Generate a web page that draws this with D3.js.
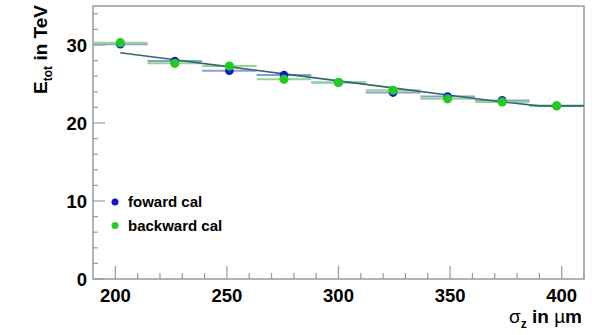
<!DOCTYPE html>
<html>
<head>
<meta charset="utf-8">
<script src="https://cdn.jsdelivr.net/npm/d3@7"></script>
<style>
    body { margin: 0; background: #fff; }
    text { font-family: "Liberation Sans", Arial, sans-serif; }
</style>
</head>
<body>
<div id="chart"></div>
<script>
"use strict";

// histogram binning (9 bins between 190 and 410 um)
const binEdgesMin = 190;
const binEdgesMax = 410;
const binCount = 9;

// bin contents
const forwardValues = [30.1, 27.95, 26.7, 26.15, 25.2, 23.9, 23.4, 22.9, 22.2];
const backwardValues = [30.3, 27.65, 27.3, 25.6, 25.2, 24.2, 23.1, 22.7, 22.2];

// fitted curve
const fitX = [202.2, 226.7, 251.1, 275.6, 300, 324.4, 348.9, 373.3, 390, 410];
const fitY = [29.0, 28.1, 27.2, 26.3, 25.4, 24.5, 23.6, 22.7, 22.2, 22.2];

const xTicks = [200, 250, 300, 350, 400];
const yTicks = [0, 10, 20, 30];

const seriesNames = ["foward cal", "backward cal"];

function draw() {
    const width = 592;
    const height = 335;
    const margin = { top: 6, right: 8, bottom: 56, left: 93 };
    const w = width - margin.left - margin.right;
    const h = height - margin.top - margin.bottom;

    const frameColor = "#9a9a9a";
    const colors = {
        forward: { dot: "#1414d2", bar: "#8e9cd8" },
        backward: { dot: "#1fcc1f", bar: "#92d692" }
    };

    const svg = d3.select("#chart").append("svg")
        .attr("width", width)
        .attr("height", height)
        .append("g")
        .attr("transform", `translate(${margin.left},${margin.top})`);

    const xScale = d3.scaleLinear().domain([binEdgesMin, binEdgesMax]).range([0, w]);
    const yScale = d3.scaleLinear().domain([0, 35]).range([h, 0]);

    const binWidth = (binEdgesMax - binEdgesMin) / binCount;
    const bins = d3.range(binCount).map(i => ({
        lo: binEdgesMin + i * binWidth,
        hi: binEdgesMin + (i + 1) * binWidth,
        c: binEdgesMin + (i + 0.5) * binWidth,
        fwd: forwardValues[i],
        bwd: backwardValues[i]
    }));

    // frame
    svg.append("rect")
        .attr("width", w)
        .attr("height", h)
        .attr("fill", "none")
        .attr("stroke", frameColor)
        .attr("stroke-width", 1.5);

    // x axis ticks (inside the frame)
    const xMinor = d3.range(200, 411, 10);
    svg.append("g").selectAll("line")
        .data(xMinor)
        .enter().append("line")
        .attr("x1", d => xScale(d)).attr("x2", d => xScale(d))
        .attr("y1", h)
        .attr("y2", d => xTicks.includes(d) ? h - 13 : h - 6)
        .attr("stroke", frameColor)
        .attr("stroke-width", 1.2);

    svg.append("g").selectAll("text")
        .data(xTicks)
        .enter().append("text")
        .attr("x", d => xScale(d))
        .attr("y", h + 23)
        .attr("text-anchor", "middle")
        .style("font-size", "18.5px")
        .style("font-weight", "bold")
        .text(d => d);

    // y axis ticks
    const yMinor = d3.range(0, 35, 2);
    svg.append("g").selectAll("line")
        .data(yMinor)
        .enter().append("line")
        .attr("x1", 0)
        .attr("x2", d => d % 10 === 0 ? 12 : 5)
        .attr("y1", d => yScale(d)).attr("y2", d => yScale(d))
        .attr("stroke", frameColor)
        .attr("stroke-width", 1.2);

    svg.append("g").selectAll("text")
        .data(yTicks)
        .enter().append("text")
        .attr("x", -6)
        .attr("y", d => yScale(d))
        .attr("dy", "0.36em")
        .attr("text-anchor", "end")
        .style("font-size", "18.5px")
        .style("font-weight", "bold")
        .text(d => d);

    // axis titles
    const xTitle = svg.append("text")
        .attr("x", w - 2)
        .attr("y", h + 44)
        .attr("text-anchor", "end")
        .style("font-size", "19px")
        .style("font-weight", "bold");
    xTitle.append("tspan").style("font-weight", "normal").text("σ");
    xTitle.append("tspan").attr("dy", 5).style("font-size", "12px").text("z");
    xTitle.append("tspan").attr("dy", -5).text(" in ");
    xTitle.append("tspan").style("font-weight", "normal").text("µ");
    xTitle.append("tspan").text("m");

    const yTitle = svg.append("text")
        .attr("transform", `translate(-46,-1) rotate(-90)`)
        .attr("text-anchor", "end")
        .style("font-size", "19px")
        .style("font-weight", "bold");
    yTitle.append("tspan").text("E");
    yTitle.append("tspan").attr("dy", 5).style("font-size", "12px").text("tot");
    yTitle.append("tspan").attr("dy", -5).text(" in TeV");

    const plot = svg.append("g");

    // horizontal bin-width bars
    plot.selectAll(".fbar")
        .data(bins)
        .enter().append("line")
        .attr("class", "fbar")
        .attr("x1", d => xScale(d.lo)).attr("x2", d => xScale(d.hi))
        .attr("y1", d => yScale(d.fwd)).attr("y2", d => yScale(d.fwd))
        .attr("stroke", colors.forward.bar)
        .attr("stroke-width", 2);

    plot.selectAll(".bbar")
        .data(bins)
        .enter().append("line")
        .attr("class", "bbar")
        .attr("x1", d => xScale(d.lo)).attr("x2", d => xScale(d.hi))
        .attr("y1", d => yScale(d.bwd)).attr("y2", d => yScale(d.bwd))
        .attr("stroke", colors.backward.bar)
        .attr("stroke-width", 2);

    // fit line
    const line = d3.line()
        .x((d, i) => xScale(fitX[i]))
        .y(d => yScale(d));
    plot.append("path")
        .datum(fitY)
        .attr("d", line)
        .attr("fill", "none")
        .attr("stroke", "#2e6a6e")
        .attr("stroke-width", 1.6);

    // markers
    plot.selectAll(".fdot")
        .data(bins)
        .enter().append("circle")
        .attr("class", "fdot")
        .attr("cx", d => xScale(d.c))
        .attr("cy", d => yScale(d.fwd))
        .attr("r", 4.3)
        .attr("fill", colors.forward.dot);

    plot.selectAll(".bdot")
        .data(bins)
        .enter().append("circle")
        .attr("class", "bdot")
        .attr("cx", d => xScale(d.c))
        .attr("cy", d => yScale(d.bwd))
        .attr("r", 4.6)
        .attr("fill", colors.backward.dot);

    // legend
    const legend = svg.selectAll(".legend")
        .data(seriesNames)
        .enter().append("g")
        .attr("class", "legend")
        .attr("transform", (_d, i) => `translate(22,${196 + i * 23.5})`);

    legend.append("circle")
        .attr("r", 3.5)
        .attr("fill", (_d, i) => i === 0 ? colors.forward.dot : colors.backward.dot);

    legend.append("text")
        .attr("x", 13)
        .attr("dy", "0.36em")
        .style("font-size", "15px")
        .style("font-weight", "bold")
        .text(d => d);
}

draw();
</script>
</body>
</html>
